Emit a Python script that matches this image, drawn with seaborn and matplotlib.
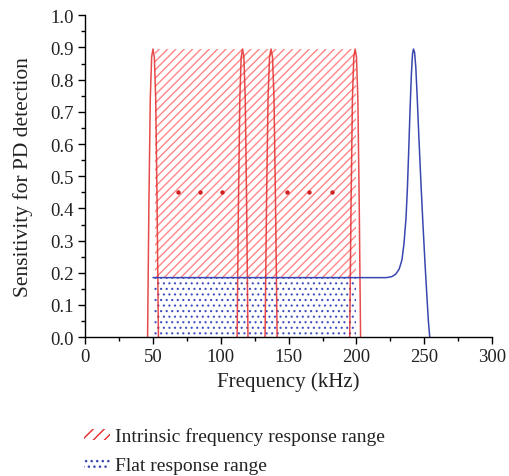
import matplotlib
matplotlib.use("Agg")
import matplotlib.pyplot as plt
import seaborn as sns
from matplotlib.patches import Patch
from matplotlib.ticker import MultipleLocator

# red resonance peaks
peak1_x = [46, 47, 48, 49, 50, 51, 52, 53, 54]
peak1_y = [0.0, 0.42, 0.74, 0.87, 0.895, 0.87, 0.74, 0.42, 0.0]
peak2_x = [112, 113, 114, 115, 116, 117, 118, 119, 120]
peak2_y = [0.0, 0.42, 0.74, 0.87, 0.895, 0.87, 0.74, 0.42, 0.0]
peak3_x = [132.6, 133.7, 134.8, 135.9, 137.0, 138.1, 139.2, 140.3, 141.5]
peak3_y = [0.0, 0.42, 0.74, 0.87, 0.895, 0.87, 0.74, 0.42, 0.0]
peak4_x = [195, 196, 197, 198, 199, 200, 201, 202, 203]
peak4_y = [0.0, 0.42, 0.74, 0.87, 0.895, 0.87, 0.74, 0.42, 0.0]

# blue flat-response curve
blue_x = [50, 222, 226, 229, 231.5, 233.5, 235, 236.5, 237.5, 238.5, 239.5,
          240.5, 241.3, 242, 242.8, 243.7, 244.7, 246, 247.5, 249, 250.5,
          252, 253, 254]
blue_y = [0.185, 0.185, 0.188, 0.196, 0.212, 0.24, 0.29, 0.37, 0.46, 0.58,
          0.71, 0.82, 0.88, 0.895, 0.885, 0.84, 0.75, 0.62, 0.48, 0.35, 0.23,
          0.12, 0.05, 0.0]

# hatched ranges
intrinsic_range = [51.5, 199.5]
intrinsic_top = 0.895
flat_range = [51, 200]
flat_level = 0.185

# "..." markers between peaks
dots_x = [68.5, 84.7, 101, 149, 165, 182]
dots_y = [0.45] * 6

red = "#e52b2b"
blue = "#3a47b0"

sns.set_style("ticks")
plt.rcParams["font.family"] = ["Liberation Serif", "DejaVu Serif"]

fig = plt.figure(figsize=(5.1, 4.77), dpi=100)
ax = fig.add_axes([0.167, 0.291, 0.798, 0.675])

with plt.rc_context({"hatch.linewidth": 1.0}):
    red_fill = ax.fill_between(intrinsic_range, flat_level, intrinsic_top,
                               facecolor="none", edgecolor="#ff8585",
                               hatch="////", linewidth=0)
with plt.rc_context({"hatch.linewidth": 0.8}):
    blue_fill = ax.fill_between(flat_range, 0, flat_level, facecolor="none",
                                edgecolor="#4050c0", hatch="...", linewidth=0)
if hasattr(red_fill, "set_hatch_linewidth"):
    red_fill.set_hatch_linewidth(1.0)
    blue_fill.set_hatch_linewidth(0.8)

for px, py in [(peak1_x, peak1_y), (peak2_x, peak2_y),
               (peak3_x, peak3_y), (peak4_x, peak4_y)]:
    sns.lineplot(x=px, y=py, color=red, lw=1.1, alpha=0.85,
                 estimator=None, sort=False, ax=ax)

sns.lineplot(x=blue_x, y=blue_y, color=blue, lw=1.1, estimator=None,
             sort=False, ax=ax)
sns.scatterplot(x=dots_x, y=dots_y, color="#d02020", s=10, linewidth=0, ax=ax)

ax.set_xlim(0, 300)
ax.set_ylim(0, 1.0)
ax.xaxis.set_major_locator(MultipleLocator(50))
ax.xaxis.set_minor_locator(MultipleLocator(25))
ax.yaxis.set_major_locator(MultipleLocator(0.1))
ax.yaxis.set_minor_locator(MultipleLocator(0.05))
ax.tick_params(which="major", direction="out", length=5, width=1,
               labelsize=13.5, color="black", labelcolor="#222222", pad=3)
ax.tick_params(which="minor", direction="out", length=3, width=1, color="black")
ax.set_yticklabels([f"{v:.1f}" for v in ax.get_yticks()])
ax.set_xlabel("Frequency (kHz)", fontsize=15, color="#222222", labelpad=4)
ax.set_ylabel("Sensitivity for PD detection", fontsize=15.5, color="#222222",
              labelpad=13)
for s in ["left", "bottom"]:
    ax.spines[s].set_color("black")
    ax.spines[s].set_linewidth(1)
sns.despine(ax=ax)

with plt.rc_context({"hatch.linewidth": 1.2}):
    h1 = Patch(facecolor="none", edgecolor=red, hatch="///", linewidth=0,
               label="Intrinsic frequency response range")
with plt.rc_context({"hatch.linewidth": 0.8}):
    h2 = Patch(facecolor="none", edgecolor=blue, hatch="...", linewidth=0,
               label="Flat response range")
if hasattr(h1, "set_hatch_linewidth"):
    h1.set_hatch_linewidth(1.2)
    h2.set_hatch_linewidth(0.8)

fig.legend(handles=[h1, h2], loc="upper left", bbox_to_anchor=(0.165, 0.102),
           frameon=False, fontsize=14, borderpad=0, borderaxespad=0,
           handlelength=1.35, handleheight=0.5, handletextpad=0.25,
           labelspacing=0.6, labelcolor="#222222")

fig.savefig("out.png", dpi=100)
